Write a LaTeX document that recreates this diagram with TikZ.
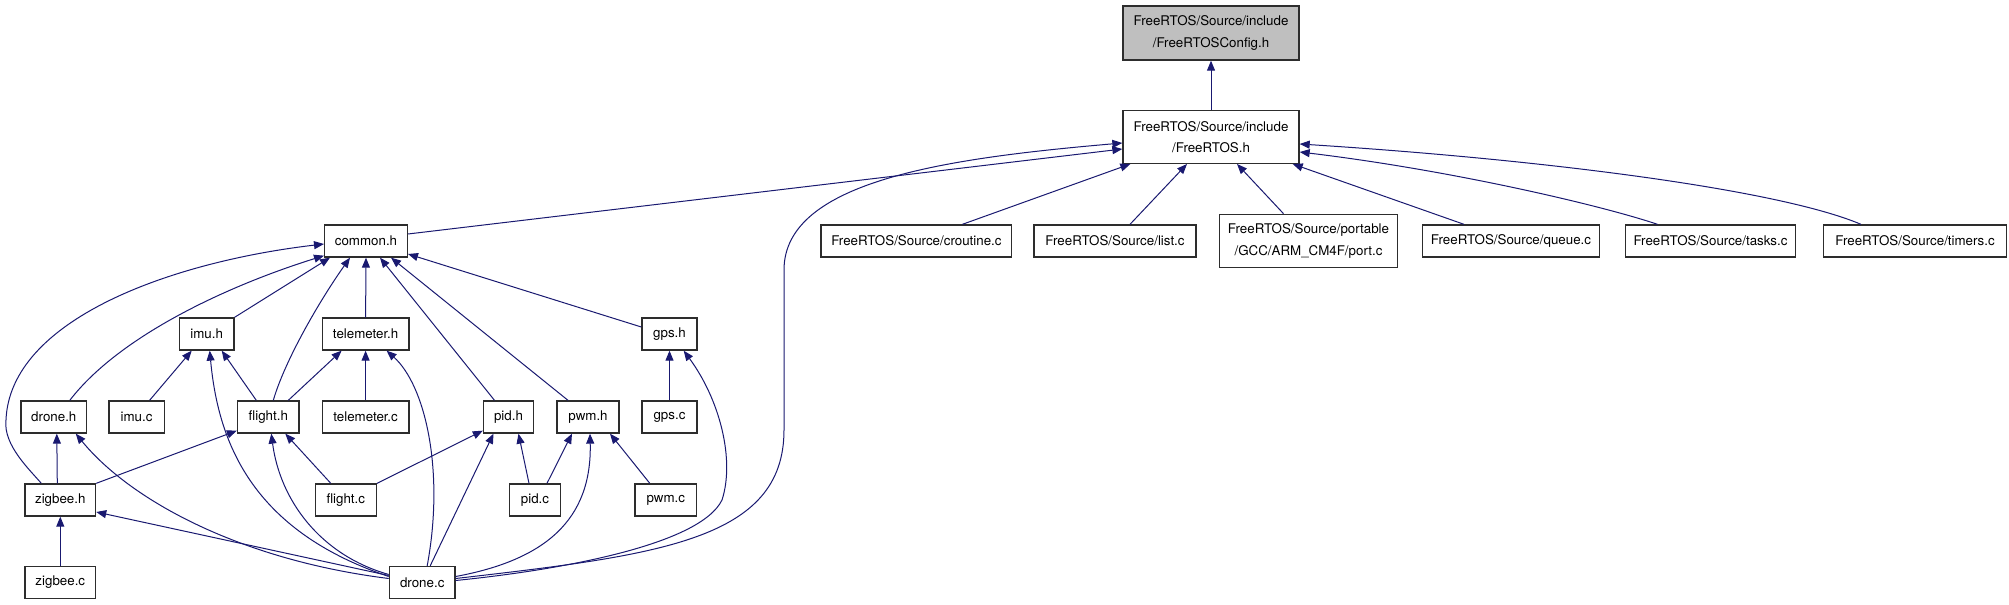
\documentclass[tikz,border=0pt]{standalone}
\usepackage{fontspec}
\setmainfont{TeX Gyre Heros}
\usetikzlibrary{arrows.meta,calc}
\definecolor{navyc}{RGB}{25,25,112}
\definecolor{boxline}{RGB}{45,45,45}
\definecolor{boxfill}{RGB}{191,191,191}
\tikzset{
  box/.style={draw=boxline, line width=1pt, inner sep=0pt, minimum height=24pt,
    font=\fontsize{10}{16}\selectfont, align=center, fill=white},
  dep/.style={draw=navyc, line width=0.75pt, {Triangle[length=7.5pt,width=6pt]}-},
}
\begin{document}
\begin{tikzpicture}[x=0.75pt,y=-0.75pt]
\useasboundingbox (0,0) rectangle (2009,605);
% nodes
\node[box, fill=boxfill, minimum width=132pt, minimum height=40.5pt] (cfg) at (1211,33) {FreeRTOS/Source/include\\/FreeRTOSConfig.h};
\node[box, minimum width=132pt, minimum height=39.5pt] (frt) at (1211,137) {FreeRTOS/Source/include\\/FreeRTOS.h};
\node[box, minimum width=62pt] (common) at (366,241) {common.h};
\node[box, minimum width=143pt] (croutine) at (916.4,241) {FreeRTOS/Source/croutine.c};
\node[box, minimum width=121.5pt] (list) at (1115,241) {FreeRTOS/Source/list.c};
\node[box, minimum width=133.7pt, minimum height=40pt] (port) at (1308.5,241) {FreeRTOS/Source/portable\\/GCC/ARM\_CM4F/port.c};
\node[box, minimum width=133pt] (queue) at (1511,241) {FreeRTOS/Source/queue.c};
\node[box, minimum width=127.5pt] (tasks) at (1710.5,241) {FreeRTOS/Source/tasks.c};
\node[box, minimum width=137pt] (timers) at (1915,241) {FreeRTOS/Source/timers.c};
\node[box, minimum width=40.8pt] (imuh) at (206.7,334) {imu.h};
\node[box, minimum width=65pt] (telh) at (365.6,334) {telemeter.h};
\node[box, minimum width=41.3pt] (gpsh) at (669.5,334) {gps.h};
\node[box, minimum width=49.2pt] (droneh) at (53.8,417) {drone.h};
\node[box, minimum width=41.5pt] (imuc) at (136.6,417) {imu.c};
\node[box, minimum width=46.2pt] (flighth) at (268.3,417) {flight.h};
\node[box, minimum width=65pt] (telc) at (365.6,417) {telemeter.c};
\node[box, minimum width=37.5pt] (pidh) at (508.5,417) {pid.h};
\node[box, minimum width=46.3pt] (pwmh) at (588,417) {pwm.h};
\node[box, minimum width=41.3pt] (gpsc) at (669.5,417) {gps.c};
\node[box, minimum width=52.9pt] (zigh) at (60.3,500) {zigbee.h};
\node[box, minimum width=45.8pt] (flightc) at (345.8,500) {flight.c};
\node[box, minimum width=38.5pt] (pidc) at (535,500) {pid.c};
\node[box, minimum width=46.3pt] (pwmc) at (665.8,500) {pwm.c};
\node[box, minimum width=52.9pt] (zigc) at (60.3,582.5) {zigbee.c};
\node[box, minimum width=49.2pt] (dronec) at (422.2,582.5) {drone.c};
% edges (arrow at the included file)
\draw[dep] (cfg.south) -- (frt.north);
\draw[dep] ($(frt.west)+(0,12)$) -- ($(common.east)+(0,-7)$);
\draw[dep] ($(frt.west)+(0,6)$) .. controls (950,158) and (784,180) .. (784,270) -- (784,430) .. controls (784,540) and (660,555) .. ($(dronec.east)+(0,-4)$);
\draw[dep] ($(frt.south west)+(8,0)$) -- ($(croutine.north)+(46,0)$);
\draw[dep] ($(frt.south)+(-24,0)$) -- ($(list.north)+(15,0)$);
\draw[dep] ($(frt.south)+(26,0)$) -- ($(port.north)+(-25,0)$);
\draw[dep] ($(frt.south east)+(-7,0)$) -- ($(queue.north)+(-47,0)$);
\draw[dep] ($(frt.east)+(0,15)$) .. controls (1450,170) and (1600,205) .. ($(tasks.north)+(-53,0)$);
\draw[dep] ($(frt.east)+(0,7)$) .. controls (1550,160) and (1780,190) .. ($(timers.north)+(-54,0)$);
% common.h
\draw[dep] ($(common.west)+(0,3)$) .. controls (170,262) and (10,320) .. (6,420) .. controls (3,445) and (30,470) .. ($(zigh.north)+(-19,0)$);
\draw[dep] ($(common.south west)+(0,-2)$) .. controls (230,285) and (120,335) .. ($(droneh.north)+(16,0)$);
\draw[dep] ($(common.south west)+(6,0)$) -- (imuh.north east);
\draw[dep] ($(common.south)+(-16,0)$) .. controls (320,300) and (285,360) .. ($(flighth.north)+(5,0)$);
\draw[dep] (common.south) -- (telh.north);
\draw[dep] ($(common.south)+(14,0)$) -- ($(pidh.north)+(-14,0)$);
\draw[dep] ($(common.south)+(25,0)$) -- ($(pwmh.north)+(-20,0)$);
\draw[dep] ($(common.east)+(0,13)$) -- ($(gpsh.west)+(0,-7)$);
% imu.h
\draw[dep] ($(imuh.south)+(-15,0)$) -- ($(imuc.north)+(13,0)$);
\draw[dep] ($(imuh.south)+(15,0)$) -- ($(flighth.north)+(-12,0)$);
\draw[dep] ($(imuh.south)+(3,0)$) .. controls (218,440) and (250,530) .. ($(dronec.west)+(0,-6)$);
% telemeter.h
\draw[dep] ($(telh.south)+(-24,0)$) -- ($(flighth.north)+(20,0)$);
\draw[dep] (telh.south) -- (telc.north);
\draw[dep] ($(telh.south)+(21,0)$) .. controls (425,385) and (445,470) .. ($(dronec.north)+(5,0)$);
% gps.h
\draw[dep] (gpsh.south) -- (gpsc.north);
\draw[dep] ($(gpsh.south east)+(-14,0)$) .. controls (720,400) and (735,460) .. (722,500) .. controls (700,545) and (560,570) .. ($(dronec.east)+(0,-2)$);
% drone.h
\draw[dep] ($(droneh.south)+(3,0)$) -- ($(zigh.north)+(-3,0)$);
\draw[dep] ($(droneh.south)+(22,0)$) .. controls (130,500) and (240,560) .. ($(dronec.west)+(0,-4)$);
% flight.h
\draw[dep] ($(flighth.south west)+(0,-3)$) -- (zigh.north east);
\draw[dep] ($(flighth.south)+(3,0)$) .. controls (280,500) and (320,555) .. ($(dronec.west)+(0,-8)$);
\draw[dep] ($(flighth.south)+(17,0)$) -- ($(flightc.north)+(-15,0)$);
% pid.h
\draw[dep] ($(pidh.south west)+(0,-3)$) -- (flightc.north east);
\draw[dep] ($(pidh.south)+(-15,0)$) -- ($(dronec.north)+(8,0)$);
\draw[dep] ($(pidh.south)+(10,0)$) -- ($(pidc.north)+(-6,0)$);
% pwm.h
\draw[dep] ($(pwmh.south)+(-16,0)$) -- ($(pidc.north)+(12,0)$);
\draw[dep] ($(pwmh.south)+(2,0)$) .. controls (592,520) and (545,560) .. ($(dronec.east)+(0,-6)$);
\draw[dep] ($(pwmh.south)+(22,0)$) -- ($(pwmc.north)+(-16,0)$);
% zigbee.h
\draw[dep] (zigh.south) -- (zigc.north);
\draw[dep] ($(zigh.east)+(0,12)$) -- ($(dronec.west)+(0,-7)$);
\end{tikzpicture}
\end{document}
